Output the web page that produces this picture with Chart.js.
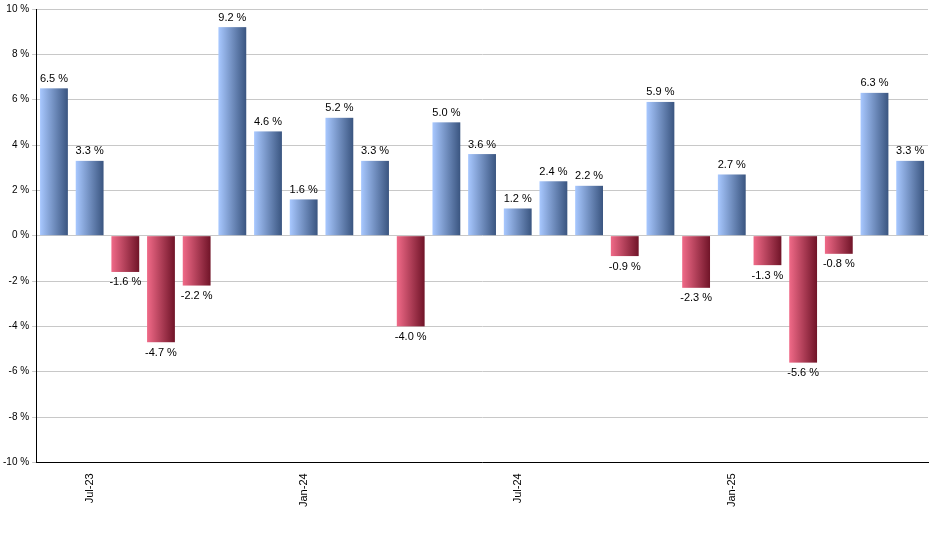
<!DOCTYPE html>
<html><head><meta charset="utf-8">
<script src="https://cdn.jsdelivr.net/npm/chart.js@4/dist/chart.umd.min.js"></script>
<style>body{margin:0;background:#fff}#w{width:940px;height:550px}</style>
</head><body><div id="w"><canvas id="c"></canvas></div>
<script>
const categories=["Jun-23","Jul-23","Aug-23","Sep-23","Oct-23","Nov-23","Dec-23","Jan-24","Feb-24","Mar-24","Apr-24","May-24","Jun-24","Jul-24","Aug-24","Sep-24","Oct-24","Nov-24","Dec-24","Jan-25","Feb-25","Mar-25","Apr-25","May-25","Jun-25"];
const values=[6.5,3.3,-1.6,-4.7,-2.2,9.2,4.6,1.6,5.2,3.3,-4.0,5.0,3.6,1.2,2.4,2.2,-0.9,5.9,-2.3,2.7,-1.3,-5.6,-0.8,6.3,3.3];
const shownTicks=["Jul-23","Jan-24","Jul-24","Jan-25"];
const grad={id:'grad',afterDatasetsDraw(ch){const c=ch.ctx;c.save();ch.getDatasetMeta(0).data.forEach((el,i)=>{const x0=el.x-el.width/2,x1=el.x+el.width/2;const g=c.createLinearGradient(x0,0,x1,0);if(values[i]>=0){g.addColorStop(0,'#a8c8ff');g.addColorStop(1,'#3a5580');}else{g.addColorStop(0,'#f06a88');g.addColorStop(1,'#701428');}c.fillStyle=g;const y0=Math.min(el.y,el.base),h=Math.abs(el.base-el.y);c.fillRect(x0,y0,el.width,h);});
c.font='11px "Liberation Sans", Arial';c.fillStyle='#000';c.textAlign='center';ch.getDatasetMeta(0).data.forEach((el,i)=>{const v=values[i];const t=v.toFixed(1)+' %';if(v>=0){c.textBaseline='bottom';c.fillText(t,el.x,el.y-4);}else{c.textBaseline='top';c.fillText(t,el.x,el.y+5);}});c.restore();}};
new Chart(document.getElementById('c'),{type:'bar',data:{labels:categories,datasets:[{data:values,backgroundColor:'rgba(0,0,0,0)',barPercentage:0.78,categoryPercentage:1}]},
options:{responsive:true,maintainAspectRatio:false,animation:false,layout:{padding:{top:4,right:12,left:0,bottom:40}},plugins:{legend:{display:false},tooltip:{enabled:false}},
scales:{y:{min:-10,max:10,ticks:{stepSize:2,color:'#000',font:{size:10,family:'"Liberation Sans", Arial'},callback:v=>v+' %'},grid:{color:'#c8c8c8',drawTicks:true,tickLength:4},border:{color:'#000'}},
x:{grid:{display:false,drawTicks:true},border:{color:'#000'},ticks:{autoSkip:false,minRotation:90,maxRotation:90,color:'#000',font:{size:11,family:'"Liberation Sans", Arial'},callback:function(v){const l=categories[v];return shownTicks.includes(l)?l:'';}}}}},plugins:[grad]});
</script></body></html>
